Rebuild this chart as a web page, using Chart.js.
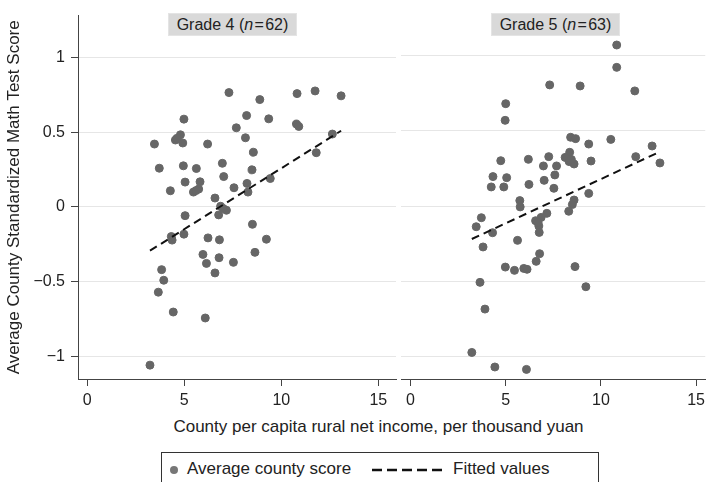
<!DOCTYPE html>
<html>
<head>
<meta charset="utf-8">
<script src="https://cdn.jsdelivr.net/npm/chart.js@4.4.0/dist/chart.umd.min.js"></script>
<style>
  html, body { margin: 0; padding: 0; background: #fff; }
  #wrap { position: relative; width: 710px; height: 482px; overflow: hidden; font-family: "Liberation Sans", Arial, sans-serif; color: #222; }
  canvas { position: absolute; top: 0; }
  .hdr { position: absolute; top: 13px; height: 23px; width: 129px; background: #d9d9d9; border: 1px solid #e4e4e4; box-sizing: border-box; font-size: 16px; line-height: 21px; text-align: center; color: #222; }
  #xtitle { position: absolute; left: 0; width: 757px; top: 417px; font-size: 17px; line-height: 20px; text-align: center; color: #222; }
  #legend { position: absolute; left: 161px; top: 452px; width: 438px; height: 40px; border: 1px solid #333; border-bottom: none; box-sizing: border-box; font-size: 17px; color: #222; }
  #legend .dot { position: absolute; left: 8px; top: 13px; width: 8px; height: 8px; border-radius: 50%; background: #777; }
  #legend .t1 { position: absolute; left: 25px; top: 6px; line-height: 20px; }
  #legend svg { position: absolute; left: 210px; top: 12px; }
  #legend .t2 { position: absolute; left: 291px; top: 6px; line-height: 20px; }
</style>
</head>
<body>
<div id="wrap">
  <canvas id="c1" width="400" height="410" style="left:0"></canvas>
  <canvas id="c2" width="310" height="410" style="left:400px"></canvas>
  <div class="hdr" style="left:168px">Grade 4 (<i>n</i>&#8202;=&#8202;62)</div>
  <div class="hdr" style="left:491px">Grade 5 (<i>n</i>&#8202;=&#8202;63)</div>
  <div id="xtitle">County per capita rural net income, per thousand yuan</div>
  <div id="legend">
    <span class="dot"></span><span class="t1">Average county score</span>
    <svg width="72" height="10"><line x1="0" y1="5" x2="72" y2="5" stroke="#111" stroke-width="2.5" stroke-dasharray="10,5"/></svg>
    <span class="t2">Fitted values</span>
  </div>
</div>
<script>
// ---- data ----
const xTicks = [0, 5, 10, 15];
const yTicks = [-1, -0.5, 0, 0.5, 1];

const g4X = [7.30, 8.89, 10.81, 11.74, 13.08, 4.98, 8.21, 9.35, 10.78, 10.90, 7.68, 4.80, 4.54, 4.92, 3.46, 6.20, 8.15, 12.63, 11.80, 8.56, 6.96, 3.71, 4.95, 5.62, 8.49, 7.03, 9.43, 5.04, 5.81, 7.56, 8.23, 8.28, 4.28, 5.47, 5.74, 6.58,
  6.87, 7.17, 6.77, 5.04, 8.51, 4.33, 4.37, 4.98, 6.22, 6.81, 9.23, 5.96, 8.64, 6.14, 6.79, 7.53, 6.58, 3.83, 3.94, 3.66, 4.43, 6.08, 3.23,
  4.62, 5.60, 7.00];
const g4Y = [0.767, 0.72, 0.76, 0.778, 0.745, 0.589, 0.613, 0.591, 0.556, 0.54, 0.531, 0.484, 0.449, 0.429, 0.422, 0.422, 0.464, 0.489, 0.364, 0.367, 0.293, 0.26, 0.276, 0.258, 0.249, 0.204, 0.191, 0.167, 0.169, 0.129, 0.158, 0.10, 0.109, 0.10, 0.12, 0.06,
  0.005, -0.022, -0.053, -0.058, -0.116, -0.198, -0.222, -0.182, -0.207, -0.22, -0.216, -0.318, -0.304, -0.378, -0.34, -0.371, -0.442, -0.42, -0.491, -0.571, -0.704, -0.744, -1.06,
  0.46, 0.11, -0.01];

const g5X = [10.83, 10.83, 7.31, 8.91, 11.78, 5.0, 4.97, 8.41, 8.67, 10.52, 9.36, 12.69, 8.36, 7.26, 6.19, 4.74, 11.83, 8.12, 8.33, 8.59, 9.48, 6.98, 7.67, 13.10, 7.58, 4.33, 5.05, 7.02, 4.24, 4.90, 6.22, 7.53, 9.36, 5.74, 8.59, 8.5, 5.76,
  8.31, 7.16, 3.72, 3.45, 6.86, 6.57, 6.74, 6.76, 4.31, 5.62, 3.81, 6.78, 6.60, 4.98, 5.46, 5.95, 6.12, 8.64, 3.65, 9.21, 3.91, 3.22, 4.43, 6.09,
  6.70, 8.45];
const g5Y = [1.073, 0.924, 0.807, 0.80, 0.767, 0.682, 0.571, 0.458, 0.449, 0.444, 0.413, 0.40, 0.358, 0.329, 0.311, 0.302, 0.329, 0.324, 0.296, 0.28, 0.30, 0.267, 0.267, 0.287, 0.207, 0.196, 0.189, 0.171, 0.127, 0.127, 0.144, 0.118, 0.084, 0.036, 0.04, 0.01, -0.006,
  -0.035, -0.049, -0.078, -0.138, -0.076, -0.098, -0.133, -0.176, -0.178, -0.229, -0.273, -0.318, -0.369, -0.407, -0.429, -0.416, -0.422, -0.404, -0.509, -0.538, -0.687, -0.976, -1.073, -1.089,
  -0.11, 0.31];

const fit4X = [3.23, 13.08];
const fit4Y = [-0.293, 0.511];
const fit5X = [3.22, 13.10];
const fit5Y = [-0.22, 0.362];
// ---------------------------------------

Chart.defaults.font.family = '"Liberation Sans", Arial, sans-serif';
Chart.defaults.color = '#222';

const AXIS = '#444';
const GRID = '#e6e6e6';
const fmt = v => v < 0 ? '\u2212' + Math.abs(v) : String(v);
const pts = (xs, ys) => xs.map((x, i) => ({ x: x, y: ys[i] }));

function makeChart(id, xs, ys, fx, fy, first) {
  const xRange = first ? { min: -0.48, max: 15.91 } : { min: -0.50, max: 15.48 };
  return new Chart(document.getElementById(id), {
    type: 'scatter',
    data: {
      datasets: [
        {
          label: 'Fitted values', data: pts(fx, fy), showLine: true, order: 0,
          borderColor: '#111', borderWidth: 2, borderDash: [8, 5], pointRadius: 0, fill: false
        },
        {
          label: 'Average county score', data: pts(xs, ys), order: 1,
          backgroundColor: '#666', borderColor: '#666', borderWidth: 1, pointRadius: 4
        }
      ]
    },
    options: {
      responsive: false, animation: false, devicePixelRatio: 1,
      layout: { autoPadding: false, padding: { top: 13.5, right: first ? 4 : 0, left: 0, bottom: 0 } },
      plugins: { legend: { display: false }, tooltip: { enabled: false } },
      scales: {
        x: {
          type: 'linear', min: xRange.min, max: xRange.max,
          afterBuildTicks: s => { s.ticks = xTicks.map(v => ({ value: v })); },
          afterFit: s => { s.height = 31; },
          grid: { drawOnChartArea: false, drawTicks: true, tickLength: 7, tickColor: AXIS },
          border: { display: true, color: AXIS, width: 1 },
          ticks: { font: { size: 16 }, color: '#222', padding: 5, maxRotation: 0, callback: v => fmt(v) }
        },
        y: {
          type: 'linear', min: -1.153, max: 1.283,
          afterBuildTicks: s => { s.ticks = yTicks.map(v => ({ value: v })); },
          afterFit: s => { s.width = first ? 78 : 1; },
          grid: { color: GRID, lineWidth: 1, drawTicks: first, tickLength: 7, tickColor: AXIS },
          border: { display: first, color: AXIS, width: 1 },
          ticks: { display: first, font: { size: 16 }, color: '#222', padding: 6, callback: v => fmt(v) },
          title: {
            display: first, text: 'Average County Standardized Math Test Score',
            font: { size: 17 }, color: '#222', padding: { top: 4, bottom: 0 }
          }
        }
      }
    }
  });
}

makeChart('c1', g4X, g4Y, fit4X, fit4Y, true);
makeChart('c2', g5X, g5Y, fit5X, fit5Y, false);
</script>
</body>
</html>
